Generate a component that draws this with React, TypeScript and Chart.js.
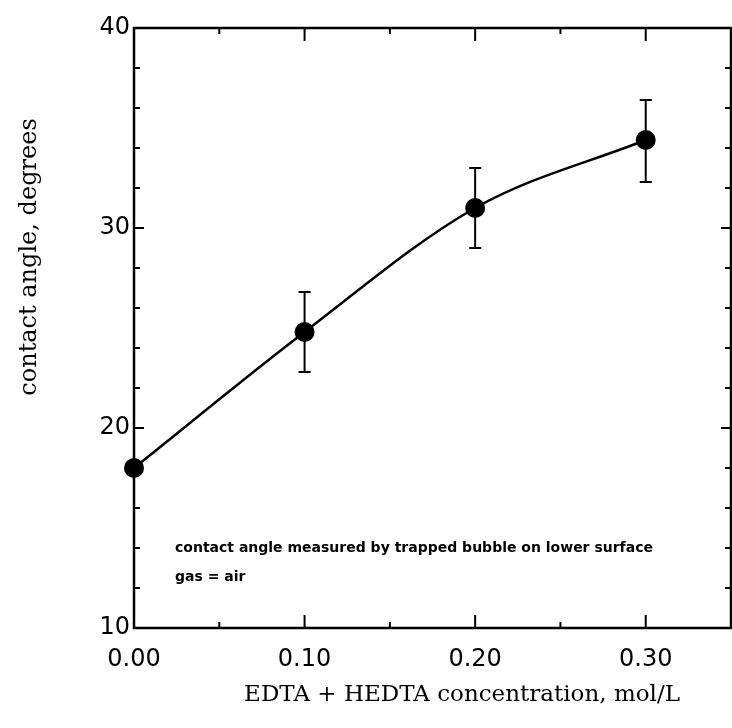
import { useEffect, useRef } from "react";
import { Chart, registerables } from "chart.js";

Chart.register(...registerables);

// ---- data ----
const concentration = [0.0, 0.1, 0.2, 0.3];
const contactAngle = [18.0, 24.8, 31.0, 34.4];
const errorLow: (number | null)[] = [null, 22.8, 29.0, 32.3];
const errorHigh: (number | null)[] = [null, 26.8, 33.0, 36.4];

const xTicks = [0, 0.1, 0.2, 0.3];
const xTickLabels = ["0.00", "0.10", "0.20", "0.30"];
const yTicks = [10, 20, 30, 40];
const yTickLabels = ["10", "20", "30", "40"];

const xTitle = "EDTA + HEDTA concentration, mol/L";
const yTitle = "contact angle, degrees";
const noteLines = [
  "contact angle measured by trapped bubble on lower surface",
  "gas = air",
];

const X_MIN = 0;
const X_MAX = 0.35;
const Y_MIN = 10;
const Y_MAX = 40;

export default function App() {
  const ref = useRef<HTMLCanvasElement>(null);

  useEffect(() => {
    const canvas = ref.current;
    if (!canvas) return;

    const decor = {
      id: "decor",
      beforeDatasetsDraw(chart: any) {
        const { ctx, chartArea: a, scales } = chart;
        const x = scales.x;
        const y = scales.y;
        ctx.save();
        ctx.strokeStyle = "#000";
        ctx.lineWidth = 2.5;
        ctx.strokeRect(a.left, a.top, a.right - a.left, a.bottom - a.top);
        ctx.lineWidth = 2;
        const seg = (x1: number, y1: number, x2: number, y2: number) => {
          ctx.beginPath();
          ctx.moveTo(x1, y1);
          ctx.lineTo(x2, y2);
          ctx.stroke();
        };
        // inward y ticks (minor every 2, major every 10)
        for (let v = Y_MIN + 2; v < Y_MAX; v += 2) {
          const py = y.getPixelForValue(v);
          const L = v % 10 === 0 ? 10 : 6;
          seg(a.left, py, a.left + L, py);
          seg(a.right, py, a.right - L, py);
        }
        // inward x ticks (minor every 0.05, major every 0.1)
        for (let i = 1; i < 7; i++) {
          const px = x.getPixelForValue(i * 0.05);
          const L = i % 2 === 0 ? 13 : 6;
          seg(px, a.bottom, px, a.bottom - L);
          seg(px, a.top, px, a.top + L);
        }
        // error bars
        for (let i = 0; i < concentration.length; i++) {
          const lo = errorLow[i];
          const hi = errorHigh[i];
          if (lo == null || hi == null) continue;
          const px = x.getPixelForValue(concentration[i]);
          const pLo = y.getPixelForValue(lo);
          const pHi = y.getPixelForValue(hi);
          seg(px, pLo, px, pHi);
          seg(px - 6, pLo, px + 6, pLo);
          seg(px - 6, pHi, px + 6, pHi);
        }
        ctx.restore();
      },
      afterDraw(chart: any) {
        const { ctx } = chart;
        ctx.save();
        ctx.fillStyle = "#000";
        ctx.textAlign = "center";
        ctx.textBaseline = "middle";
        ctx.font = '23px "DejaVu Serif"';
        ctx.fillText(xTitle, 462, 695);
        ctx.save();
        ctx.translate(30, 257);
        ctx.rotate(-Math.PI / 2);
        ctx.font = '24px "DejaVu Serif"';
        ctx.fillText(yTitle, 0, 0);
        ctx.restore();
        ctx.textAlign = "left";
        ctx.font = 'bold 14px "DejaVu Sans"';
        ctx.fillText(noteLines[0], 175, 548);
        ctx.fillText(noteLines[1], 175, 577);
        ctx.restore();
      },
    };

    const tickFont = { family: '"DejaVu Sans"', size: 24, weight: "normal" as const };

    const chart = new Chart(canvas, {
      type: "line",
      data: {
        datasets: [
          {
            data: concentration.map((c, i) => ({ x: c, y: contactAngle[i] })),
            borderColor: "#000",
            borderWidth: 2.5,
            pointRadius: 10,
            pointBackgroundColor: "#000",
            pointBorderColor: "#000",
            pointBorderWidth: 0,
            cubicInterpolationMode: "monotone",
            fill: false,
            clip: false as any,
          },
        ],
      },
      options: {
        responsive: false,
        animation: false,
        layout: { autoPadding: false, padding: { top: 28, right: 1, left: 0, bottom: 0 } },
        plugins: {
          legend: { display: false },
          tooltip: { enabled: false },
        },
        scales: {
          x: {
            type: "linear",
            min: X_MIN,
            max: X_MAX,
            grid: { display: false, drawTicks: false },
            border: { display: false },
            afterBuildTicks: (s: any) => {
              s.ticks = xTicks.map((v) => ({ value: v }));
            },
            afterFit: (s: any) => {
              s.height = 100;
              s.paddingLeft = 0;
              s.paddingRight = 0;
            },
            ticks: {
              autoSkip: false,
              maxRotation: 0,
              padding: 17,
              color: "#000",
              font: tickFont,
              callback: (_v: any, i: number) => xTickLabels[i],
            },
          },
          y: {
            type: "linear",
            min: Y_MIN,
            max: Y_MAX,
            grid: { display: false, drawTicks: false },
            border: { display: false },
            afterBuildTicks: (s: any) => {
              s.ticks = yTicks.map((v) => ({ value: v }));
            },
            afterFit: (s: any) => {
              s.width = 134;
              s.paddingTop = 0;
              s.paddingBottom = 0;
            },
            ticks: {
              autoSkip: false,
              padding: 4,
              color: "#000",
              font: tickFont,
              callback: (_v: any, i: number) => yTickLabels[i],
            },
          },
        },
      },
      plugins: [decor],
    });

    return () => chart.destroy();
  }, []);

  return (
    <div style={{ position: "fixed", left: 0, top: 0, width: 732, height: 728, background: "#fff" }}>
      <canvas ref={ref} width={732} height={728} style={{ display: "block" }} />
    </div>
  );
}
